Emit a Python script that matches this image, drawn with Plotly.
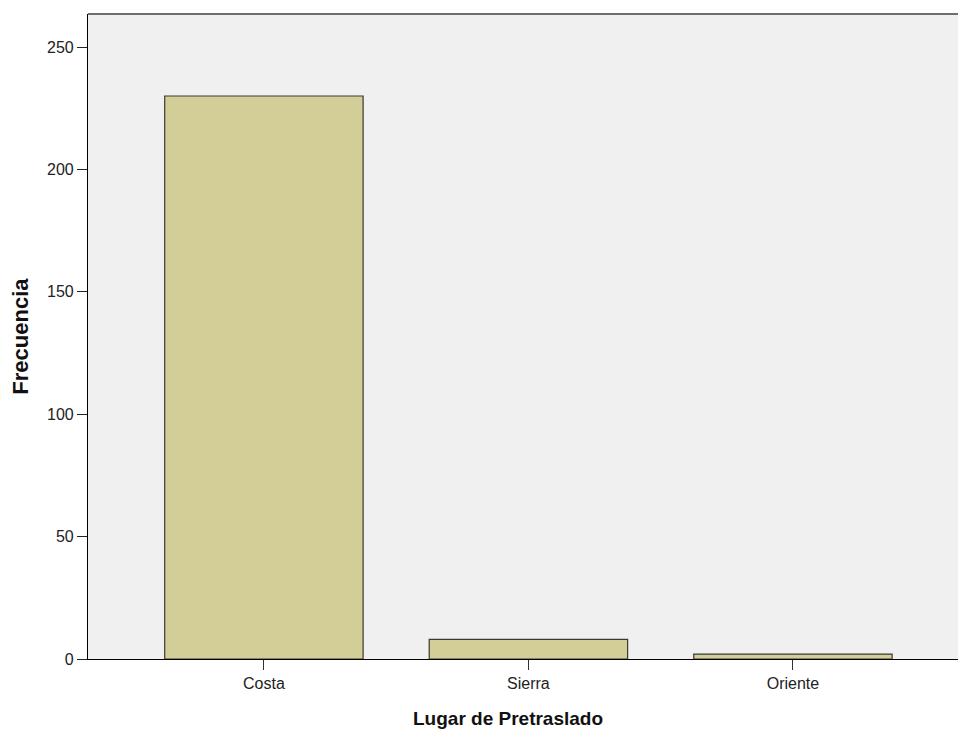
import plotly.graph_objects as go

# -------------------------------
# Data
# -------------------------------

lugares = ["Costa", "Sierra", "Oriente"]
frecuencia = [230, 8, 2]

y_ticks = [0, 50, 100, 150, 200, 250]

x_title = "Lugar de Pretraslado"
y_title = "Frecuencia"

# -------------------------------
# Figure
# -------------------------------

fig = go.Figure()

fig.add_trace(
    go.Bar(
        x=lugares,
        y=frecuencia,
        width=0.75,
        marker=dict(color="#D3CE98", line=dict(color="#3A3A30", width=1.2)),
        showlegend=False,
    )
)

fig.update_layout(
    width=958,
    height=733,
    autosize=False,
    margin=dict(l=88, r=0, t=14, b=74),
    paper_bgcolor="white",
    plot_bgcolor="#F0F0F0",
    font=dict(family="Liberation Sans, Arial", size=16, color="#222222"),
    xaxis=dict(
        range=[-0.665, 2.624],
        showgrid=False,
        zeroline=False,
        showline=True,
        linecolor="black",
        linewidth=1.2,
        ticks="outside",
        ticklen=10,
        tickcolor="#333333",
        tickfont=dict(size=16),
    ),
    yaxis=dict(
        range=[0, 263.5],
        tickvals=y_ticks,
        showgrid=False,
        zeroline=False,
        showline=True,
        linecolor="black",
        linewidth=1.2,
        ticks="outside",
        ticklen=10,
        tickcolor="#222222",
        tickfont=dict(size=16),
    ),
)

# axis titles as annotations (SPSS places the x title left of centre)
fig.add_annotation(
    text=f"<b>{x_title}</b>",
    xref="paper",
    yref="paper",
    x=0.483,
    y=-0.092,
    xanchor="center",
    yanchor="middle",
    showarrow=False,
    font=dict(size=19, color="#111111"),
)
fig.add_annotation(
    text=f"<b>{y_title}</b>",
    xref="paper",
    yref="paper",
    x=-0.078,
    y=0.5,
    xanchor="center",
    yanchor="middle",
    textangle=-90,
    showarrow=False,
    font=dict(size=22, color="#111111"),
)

# top frame line of the plot area
fig.add_shape(
    type="line",
    xref="paper",
    yref="paper",
    x0=0,
    x1=1,
    y0=1,
    y1=1,
    line=dict(color="#6E6E6E", width=2),
)

# drop the default page margin so the 958x733 figure fills the window
fig.write_html(
    "out.html",
    config={"responsive": False, "displayModeBar": False},
    post_script="document.body.style.margin='0';document.body.style.overflow='hidden';",
)
